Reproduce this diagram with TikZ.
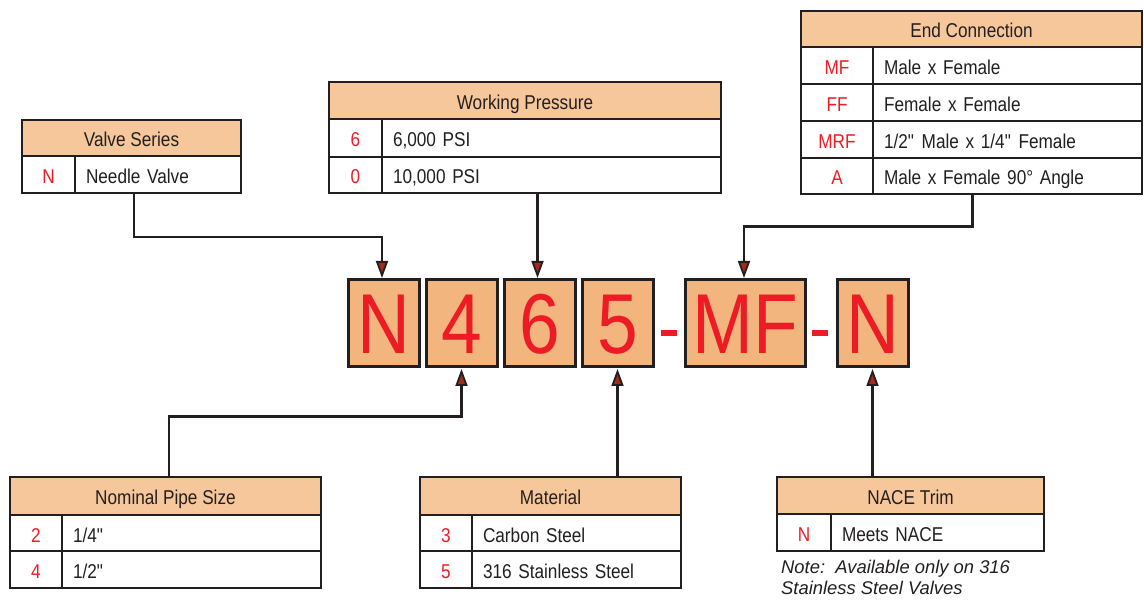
\documentclass[tikz,border=0pt]{standalone}
\usepackage{fontspec}
\setmainfont[FakeStretch=0.86]{Liberation Sans}
\newfontfamily\notefont{Liberation Sans}
\usetikzlibrary{arrows.meta}
\definecolor{ink}{HTML}{231F20}
\definecolor{codered}{HTML}{ED1C24}
\definecolor{hdrfill}{HTML}{F6C79B}
\definecolor{boxfill}{HTML}{F2B57E}
\definecolor{tipred}{HTML}{A52A1E}
\newcommand{\mycell}[7]{%
  \pgfmathsetmacro\mycw{#4-#2}\pgfmathsetmacro\mych{#5-#3}\pgfmathsetmacro\mytw{#4-#2-22}%
  \node[#6, minimum width=\mycw pt, minimum height=\mych pt, anchor=north west] (#1) at (#2,#3) {#7};}
\tikzset{
  cell/.style={draw=ink, line width=2.8pt, outer sep=0pt, inner sep=0pt,
    font=\fontsize{20}{24}\selectfont, text=ink, text height=18pt, text depth=0pt},
  hdr/.style={cell, fill=hdrfill},
  code/.style={cell, fill=white, text=codered},
  desc/.style={cell, fill=white, text width=\mytw pt, inner xsep=11pt, align=left},
  bigbox/.style={draw=ink, line width=3pt, fill=boxfill, outer sep=0pt, inner sep=0pt,
    text=codered, font=\fontsize{85}{85}\selectfont, text height=61pt, text depth=0pt},
  dashbar/.style={fill=codered, draw=none, inner sep=0pt, outer sep=0pt},
  conn/.style={draw=ink, line width=2.6pt,
    -{Triangle[length=17pt,width=12pt,fill=tipred,line join=miter,line width=1.8pt]}},
  notetext/.style={inner sep=0pt, anchor=north west, align=left, text=ink,
    font=\notefont\itshape\fontsize{18.4}{21}\selectfont}
}
\begin{document}
\begin{tikzpicture}[x=1pt,y=-1pt]
\useasboundingbox (0,0) rectangle (1144,601);
% Valve Series
\mycell{vsH}{22}{120}{241}{156}{hdr}{Valve Series}
\mycell{vsC}{22}{156}{75}{193}{code}{N}
\mycell{vsD}{75}{156}{241}{193}{desc}{Needle Valve}
% Working Pressure
\mycell{wpH}{329}{82}{721}{119}{hdr}{Working Pressure}
\mycell{wpC1}{329}{119}{382}{157}{code}{6}
\mycell{wpD1}{382}{119}{721}{157}{desc}{6,000 PSI}
\mycell{wpC2}{329}{157}{382}{193}{code}{0}
\mycell{wpD2}{382}{157}{721}{193}{desc}{10,000 PSI}
% End Connection
\mycell{ecH}{801}{11}{1142}{47}{hdr}{End Connection}
\mycell{ecC1}{801}{47}{873}{84}{code}{MF}
\mycell{ecD1}{873}{47}{1142}{84}{desc}{Male x Female}
\mycell{ecC2}{801}{84}{873}{121}{code}{FF}
\mycell{ecD2}{873}{84}{1142}{121}{desc}{Female x Female}
\mycell{ecC3}{801}{121}{873}{158}{code}{MRF}
\mycell{ecD3}{873}{121}{1142}{158}{desc}{1/2\textquotedbl{} Male x 1/4\textquotedbl{} Female}
\mycell{ecC4}{801}{158}{873}{194}{code}{A}
\mycell{ecD4}{873}{158}{1142}{194}{desc}{Male x Female 90° Angle}
% Nominal Pipe Size
\mycell{nomH}{10}{477}{321}{515}{hdr}{Nominal Pipe Size}
\mycell{nomC1}{10}{515}{62}{551}{code}{2}
\mycell{nomD1}{62}{515}{321}{551}{desc}{1/4\textquotedbl}
\mycell{nomC2}{10}{551}{62}{588}{code}{4}
\mycell{nomD2}{62}{551}{321}{588}{desc}{1/2\textquotedbl}
% Material
\mycell{matH}{420}{477}{681}{515}{hdr}{Material}
\mycell{matC1}{420}{515}{472}{551}{code}{3}
\mycell{matD1}{472}{515}{681}{551}{desc}{Carbon Steel}
\mycell{matC2}{420}{551}{472}{588}{code}{5}
\mycell{matD2}{472}{551}{681}{588}{desc}{316 Stainless Steel}
% NACE Trim
\mycell{naH}{777}{477}{1044}{514}{hdr}{NACE Trim}
\mycell{naC}{777}{514}{831}{551}{code}{N}
\mycell{naD}{831}{514}{1044}{551}{desc}{Meets NACE}
\node[notetext] (note) at (781,560) {Note:\ \ Available only on 316\\Stainless Steel Valves};
% Part number boxes
\mycell{bN}{348}{280}{419}{367}{bigbox}{N}
\mycell{b4}{426}{280}{497}{367}{bigbox}{4}
\mycell{b6}{504}{280}{575}{367}{bigbox}{6}
\mycell{b5}{582}{280}{653}{367}{bigbox}{5}
\mycell{dash1}{661}{330}{677}{336}{dashbar}{}
\mycell{bMF}{685}{280}{805}{367}{bigbox}{MF}
\mycell{dash2}{812}{330}{828}{336}{dashbar}{}
\mycell{bN2}{837}{280}{908}{367}{bigbox}{N}
% Connectors
\draw[conn] ([xshift=2.5pt]vsH.center |- vsD.south) -- ++(0,44) -| ([yshift=2pt,xshift=-1.5pt]bN.north);
\draw[conn] ([xshift=-2pt]b6.north |- wpD2.south) -- ([yshift=2pt,xshift=-2pt]b6.north);
\draw[conn] ([xshift=1pt]ecH.center |- ecD4.south) -- ++(0,32.7) -| ([yshift=2pt,xshift=-1pt]bMF.north);
\draw[conn] ([xshift=3.5pt]nomH.north) -- ++(0,-60.5) -| ([yshift=-2pt]b4.south);
\draw[conn] (b5.south |- matH.north) -- ([yshift=-2pt]b5.south);
\draw[conn] (bN2.south |- naH.north) -- ([yshift=-2pt]bN2.south);
\end{tikzpicture}
\end{document}
